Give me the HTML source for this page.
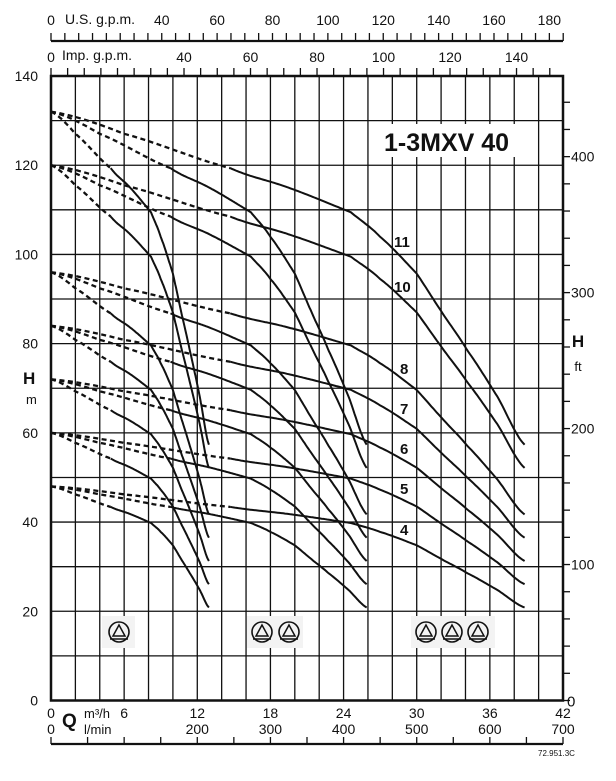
<!DOCTYPE html>
<html><head><meta charset="utf-8"><style>
html,body{margin:0;padding:0;background:#fff}
svg{display:block}
text{font-family:"Liberation Sans",Arial,sans-serif;fill:#111}
</style></head><body>
<svg id="s" width="616" height="781" viewBox="0 0 616 781" xmlns="http://www.w3.org/2000/svg">
<g id="grid" stroke="#111" stroke-width="1.3"></g>
<rect x="380" y="124" width="150" height="33" fill="#fff"/>
<text x="384" y="151" font-size="25" font-weight="bold">1-3MXV 40</text>
<g id="curves" fill="none" stroke="#111" stroke-width="2"></g>
<g id="txt"></g>
<g font-size="15" font-weight="bold">
<text x="394" y="247">11</text><text x="394" y="292">10</text>
<text x="400" y="374">8</text><text x="400" y="414">7</text>
<text x="400" y="454">6</text><text x="400" y="494">5</text>
<text x="400" y="535">4</text>
</g>
<text x="23" y="384" font-size="17" font-weight="bold">H</text>
<text x="26" y="404" font-size="13">m</text>
<text x="578" y="347" font-size="17" font-weight="bold" text-anchor="middle">H</text>
<text x="578" y="371" font-size="13" text-anchor="middle">ft</text>
<text x="62" y="727" font-size="19" font-weight="bold">Q</text>
<text x="84" y="718" font-size="13">m³/h</text>
<text x="84" y="734" font-size="13">l/min</text>
<text x="538" y="756" font-size="8">72.951.3C</text>
<text x="51" y="25" font-size="14" text-anchor="middle">0</text>
<text x="65" y="24" font-size="14">U.S. g.p.m.</text>
<text x="51" y="62" font-size="14" text-anchor="middle">0</text>
<text x="62" y="60" font-size="14">Imp. g.p.m.</text>
<g id="pumps"></g>
</svg>
<script>
var NS="http://www.w3.org/2000/svg";
function el(p,n,a,t){var e=document.createElementNS(NS,n);for(var k in a)e.setAttribute(k,a[k]);if(t!==undefined)e.textContent=t;document.getElementById(p).appendChild(e);return e;}
var X0=51,X1=563,Y0=700.5,YT=76;
var sx=(X1-X0)/42, sy=(Y0-YT)/140;
function X(q){return X0+q*sx}function Y(v){return Y0-v*sy}
for(var i=1;i<21;i++){el("grid","line",{x1:X(i*2),y1:YT,x2:X(i*2),y2:Y0});}
for(var j=1;j<14;j++){el("grid","line",{x1:X0,y1:Y(j*10),x2:X1,y2:Y(j*10)});}
el("grid","rect",{x:X0,y:YT,width:X1-X0,height:Y0-YT,fill:"none","stroke-width":2.5});
for(var f=0;f<=460;f+=20){var yy=Y(f*0.3048);if(yy<YT)break;el("grid","line",{x1:X1,y1:yy,x2:X1+7,y2:yy});}
el("grid","line",{x1:X0,y1:41,x2:X1,y2:41,"stroke-width":2.2});
var pu=sx*0.22712;
for(var g=0;g<=185;g+=5){el("grid","line",{x1:X0+g*pu,y1:33,x2:X0+g*pu,y2:41});}
for(var g=40;g<=180;g+=20)el("txt","text",{x:X0+g*pu,y:25,"font-size":14,"text-anchor":"middle"},g);
var pi=sx*0.27277;
for(var g=0;g<=150;g+=5){el("grid","line",{x1:X0+g*pi,y1:68,x2:X0+g*pi,y2:76});}
for(var g=40;g<=140;g+=20)el("txt","text",{x:X0+g*pi,y:62,"font-size":14,"text-anchor":"middle"},g);
el("grid","line",{x1:X0,y1:744,x2:X1,y2:744,"stroke-width":2.2});
for(var l=0;l<=700;l+=50){el("grid","line",{x1:X0+l*(X1-X0)/700,y1:737,x2:X0+l*(X1-X0)/700,y2:744});}
for(var hv=0;hv<=140;hv+=20)el("txt","text",{x:38,y:Y(hv)+5,"font-size":14,"text-anchor":"end"},hv);
[100,200,300,400].forEach(function(f){el("txt","text",{x:571,y:Y(f*0.3048)+5,"font-size":14},f)});
el("txt","text",{x:567,y:Y0+6,"font-size":15},"0");
for(var q=0;q<=42;q+=6)el("txt","text",{x:X(q),y:718,"font-size":14,"text-anchor":"middle"},q);
for(var l=0;l<=700;l+=100){if(l==100)continue;el("txt","text",{x:X0+l*(X1-X0)/700,y:734,"font-size":14,"text-anchor":"middle"},l);}
var U=[0,2,4.9,6.5,8.2,9.0,10.0,10.7,11.37,12.2,12.97];
var Hh=[12,11.55,10.85,10.45,9.95,9.45,8.7,7.9,7.15,6.2,5.2];
function hf(u){for(var i=0;i<U.length-1;i++){if(u<=U[i+1]){var t=(u-U[i])/(U[i+1]-U[i]);
 var p0=Hh[Math.max(i-1,0)],p1=Hh[i],p2=Hh[i+1],p3=Hh[Math.min(i+2,U.length-1)];
 var m1=(p2-p0)/2,m2=(p3-p1)/2;var t2=t*t,t3=t2*t;
 return (2*t3-3*t2+1)*p1+(t3-2*t2+t)*m1+(-2*t3+3*t2)*p2+(t3-t2)*m2;}}return Hh[Hh.length-1];}
var stages=[4,5,6,7,8,10,11];
[1,2,3].forEach(function(k){stages.forEach(function(n){
 var d1="",d2="";
 for(var u=0;u<=4.9001;u+=0.1){d1+=(d1==""?"M":"L")+X(u*k).toFixed(1)+","+Y(n*hf(u)).toFixed(1);}
 for(var u=4.9;u<=12.9701;u+=0.05){d2+=(d2==""?"M":"L")+X(u*k).toFixed(1)+","+Y(n*hf(u)).toFixed(1);}
 el("curves","path",{d:d1,"stroke-dasharray":"5 3.5","stroke-width":2.3});
 el("curves","path",{d:d2});
});});
function bg(x,w){el("pumps","rect",{x:x,y:616,width:w,height:32,fill:"#f3f3f3"});}
function pump(cx){var cy=632;el("pumps","circle",{cx:cx,cy:cy,r:10,fill:"none",stroke:"#111","stroke-width":1.6});
 el("pumps","path",{d:"M"+cx+","+(cy-7)+" L"+(cx+6)+","+(cy+4)+" L"+(cx-6)+","+(cy+4)+" Z",fill:"none",stroke:"#111","stroke-width":1.5});
 el("pumps","line",{x1:cx-9,y1:cy+7,x2:cx+9,y2:cy+7,stroke:"#111","stroke-width":1.4});}
bg(102,33);pump(119);
bg(247,56);pump(262);pump(289);
bg(411,84);pump(426);pump(452);pump(478);
</script>
</body></html>
